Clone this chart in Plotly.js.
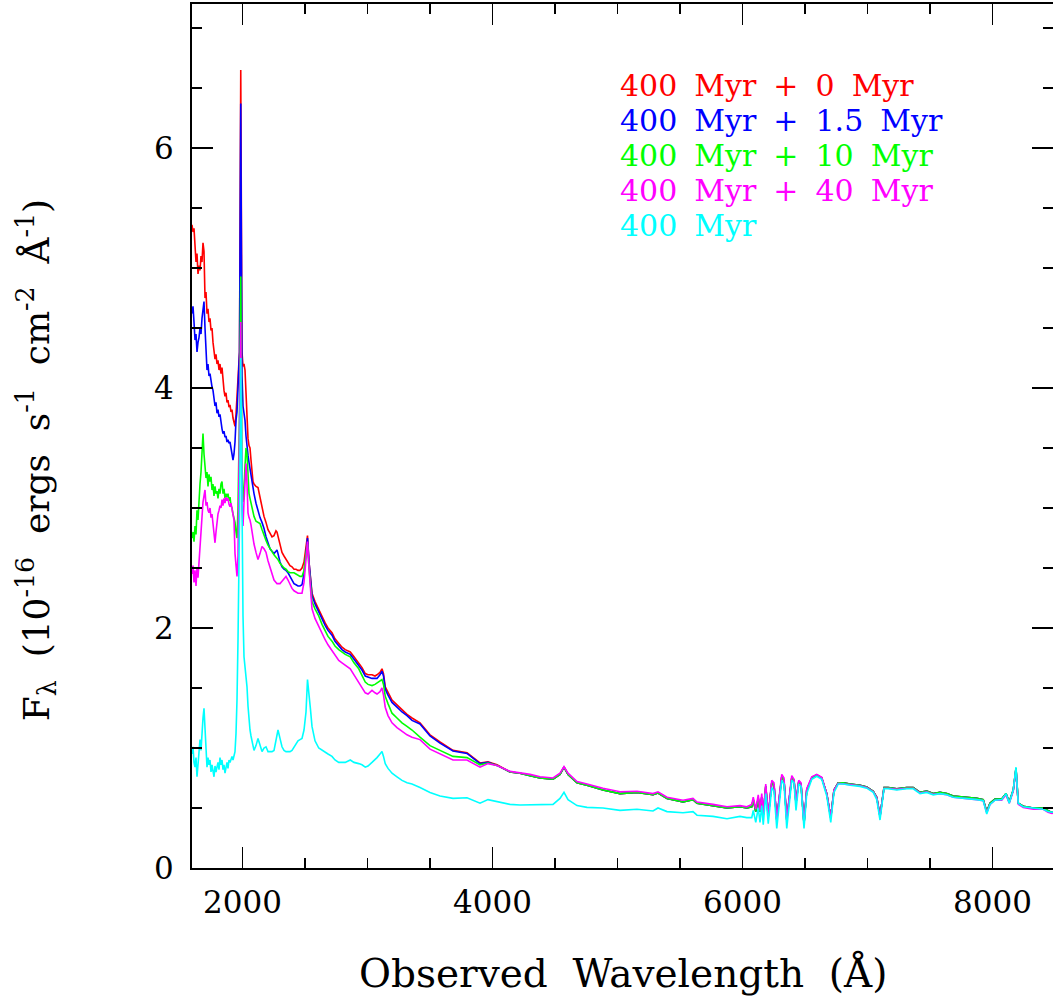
<!DOCTYPE html>
<html>
<head>
<meta charset="utf-8">
<script src="https://cdn.plot.ly/plotly-3.0.1.min.js"></script>
<style>
  html, body { margin: 0; padding: 0; background: #fff; }
  #chart { width: 1053px; height: 1000px; }
</style>
</head>
<body>
<div id="chart"></div>
<script>
// Observed wavelength (Angstrom), UV/blue part of the spectra
const wavelengthBlue = [
  1596,1604,1612,1620,1628,1636,1644,1652,1660,1668,
  1676,1684,1692,1700,1708,1716,1724,1732,1740,1748,
  1756,1764,1772,1780,1788,1796,1804,1812,1820,1828,
  1836,1844,1852,1860,1868,1876,1884,1892,1900,1908,
  1916,1924,1932,1940,1948,1956,1964,1976,1986,1996,
  2004,2012,2020,2028,2036,2044,2052,2060,2068,2076,
  2084,2092,2108,2124,2140,2156,2172,2188,2204,2220,
  2236,2252,2268,2276,2284,2300,2316,2332,2348,2364,
  2380,2396,2412,2428,2444,2460,2476,2492,2508,2520,
  2532,2544,2556,2580,2610,2636,2662,2684,2716,2740,
  2770,2796,2822,2862,2892,2930,2956,2982,3004,3036,
  3060,3076,3100,3116,3128,3142,3164,3196,3236,3276,
  3316,3356,3420,3500,3580,3684,3796,3900,3964,4036
];
// Observed wavelength (Angstrom), optical part of the spectra
const wavelengthRed = [
  4140,4220,4300,4380,4484,4540,4572,4604,4676,4756,
  4884,5020,5156,5284,5324,5396,5524,5604,5636,5764,
  5876,5980,6034,6074,6086,6106,6126,6140,6154,6166,
  6186,6206,6234,6252,6274,6314,6332,6354,6394,6412,
  6428,6450,6468,6492,6514,6554,6594,6634,6674,6706,
  6732,6766,6806,6860,6940,6994,7046,7074,7100,7132,
  7166,7234,7314,7366,7420,7474,7526,7580,7634,7686,
  7794,7874,7926,7954,7980,8020,8074,8108,8134,8166,
  8188,8206,8246,8326,8406,8444,8476,8500
];

// F_lambda (1e-16 erg/s/cm2/A), blue part
const fluxBlue_0Myr = [
  5.36,5.30,5.33,5.18,5.05,5.12,4.95,5.02,4.98,5.10,
  5.05,5.21,5.14,4.75,4.80,4.62,4.66,4.55,4.58,4.48,
  4.50,4.38,4.30,4.24,4.28,4.20,4.23,4.15,4.20,4.12,
  4.17,4.05,3.98,3.93,3.96,3.88,3.90,3.84,3.86,3.80,
  3.82,3.75,3.70,3.68,3.78,3.92,4.05,4.30,6.65,4.30,
  4.18,4.20,4.15,3.90,3.65,3.58,3.52,3.50,3.40,3.30,
  3.22,3.20,3.18,3.17,3.08,3.01,2.93,2.88,2.82,2.79,
  2.76,2.77,2.81,2.80,2.76,2.68,2.63,2.60,2.57,2.55,
  2.52,2.51,2.49,2.49,2.48,2.48,2.50,2.55,2.68,2.77,
  2.55,2.40,2.29,2.22,2.15,2.09,2.04,2.00,1.96,1.91,
  1.87,1.84,1.82,1.80,1.76,1.71,1.67,1.62,1.61,1.61,
  1.60,1.61,1.63,1.66,1.62,1.51,1.46,1.40,1.36,1.32,
  1.28,1.25,1.21,1.11,1.05,0.98,0.96,0.875,0.885,0.86
];
const fluxBlue_1p5Myr = [
  4.62,4.68,4.55,4.40,4.45,4.30,4.38,4.42,4.50,4.45,
  4.58,4.65,4.72,4.50,4.25,4.15,4.20,4.10,4.12,4.05,
  4.01,3.98,3.90,3.85,3.88,3.79,3.82,3.76,3.78,3.70,
  3.66,3.62,3.64,3.59,3.60,3.55,3.57,3.54,3.55,3.50,
  3.46,3.40,3.45,3.55,3.73,3.80,4.00,4.30,6.37,4.10,
  3.85,3.78,3.73,3.60,3.50,3.44,3.38,3.32,3.26,3.20,
  3.15,3.12,3.04,2.97,2.92,2.88,2.83,2.76,2.70,2.66,
  2.64,2.62,2.64,2.65,2.62,2.55,2.51,2.49,2.48,2.46,
  2.43,2.40,2.37,2.36,2.35,2.35,2.36,2.45,2.62,2.75,
  2.55,2.38,2.27,2.20,2.13,2.07,2.02,1.98,1.94,1.89,
  1.85,1.82,1.80,1.78,1.74,1.69,1.65,1.60,1.59,1.58,
  1.58,1.58,1.61,1.64,1.60,1.49,1.44,1.38,1.34,1.30,
  1.27,1.23,1.20,1.10,1.04,0.975,0.955,0.87,0.88,0.855
];
const fluxBlue_10Myr = [
  2.75,2.80,2.72,2.85,2.78,2.98,2.90,3.10,3.20,3.30,
  3.48,3.62,3.45,3.34,3.25,3.30,3.18,3.28,3.22,3.26,
  3.15,3.20,3.10,3.18,3.12,3.14,3.08,3.16,3.12,3.20,
  3.22,3.12,3.16,3.08,3.12,3.09,3.12,3.06,3.09,3.02,
  3.00,2.95,2.92,2.88,2.80,2.75,3.00,3.80,4.93,3.30,
  3.05,3.15,3.35,3.50,3.45,3.20,3.12,3.08,3.04,3.01,
  2.97,2.93,2.89,2.88,2.87,2.82,2.77,2.73,2.69,2.66,
  2.63,2.61,2.59,2.58,2.57,2.54,2.52,2.50,2.49,2.47,
  2.46,2.46,2.46,2.45,2.44,2.43,2.43,2.48,2.62,2.70,
  2.50,2.34,2.22,2.16,2.10,2.03,1.97,1.93,1.89,1.85,
  1.82,1.80,1.78,1.76,1.71,1.66,1.60,1.55,1.53,1.52,
  1.53,1.54,1.56,1.57,1.53,1.43,1.37,1.29,1.25,1.21,
  1.18,1.15,1.09,1.02,0.98,0.93,0.92,0.86,0.875,0.855
];
const fluxBlue_40Myr = [
  2.45,2.52,2.38,2.48,2.35,2.50,2.42,2.55,2.70,2.85,
  2.96,3.05,3.10,3.15,3.02,3.05,2.98,2.96,3.00,2.92,
  2.95,2.85,2.78,2.71,2.80,2.90,2.95,2.98,3.02,3.00,
  3.07,3.02,3.08,3.04,3.09,3.06,3.08,3.03,3.01,3.04,
  2.98,2.92,2.90,2.62,2.55,2.43,2.60,3.60,4.55,3.00,
  2.85,3.05,3.30,3.37,3.20,2.96,2.92,2.90,2.86,2.80,
  2.74,2.70,2.63,2.57,2.62,2.68,2.66,2.63,2.56,2.50,
  2.44,2.40,2.38,2.37,2.37,2.37,2.39,2.41,2.43,2.40,
  2.36,2.33,2.31,2.30,2.29,2.29,2.29,2.38,2.58,2.72,
  2.50,2.30,2.16,2.08,2.01,1.95,1.90,1.86,1.81,1.77,
  1.73,1.71,1.69,1.66,1.61,1.55,1.50,1.46,1.45,1.48,
  1.46,1.45,1.47,1.50,1.44,1.34,1.27,1.21,1.17,1.14,
  1.11,1.09,1.07,0.99,0.95,0.90,0.90,0.84,0.87,0.855
];
const fluxBlue_old = [
  0.95,1.01,0.88,0.84,0.92,0.76,0.86,0.95,1.07,0.98,
  1.15,1.25,1.33,1.12,0.95,0.84,0.92,0.86,0.90,0.80,
  0.86,0.78,0.76,0.85,0.80,0.84,0.88,0.82,0.92,0.86,
  0.90,0.82,0.86,0.79,0.85,0.88,0.83,0.90,0.88,0.92,
  0.93,0.90,0.95,0.97,1.12,1.40,1.90,2.90,4.25,2.80,
  2.10,1.76,1.68,1.60,1.51,1.35,1.23,1.15,1.10,1.07,
  1.02,0.98,1.02,1.08,1.02,0.97,1.00,1.01,0.97,0.97,
  0.97,0.98,1.06,1.10,1.15,1.08,1.01,0.98,0.97,0.97,
  0.97,0.98,1.01,1.04,1.06,1.07,1.08,1.15,1.30,1.57,
  1.46,1.32,1.18,1.06,1.00,0.98,0.96,0.95,0.93,0.90,
  0.88,0.88,0.88,0.90,0.88,0.87,0.86,0.84,0.85,0.88,
  0.90,0.92,0.95,0.97,0.93,0.87,0.83,0.79,0.76,0.73,
  0.71,0.70,0.67,0.63,0.60,0.58,0.585,0.54,0.57,0.555
];

// F_lambda, optical part (young-burst models share the same optical spectrum)
const fluxRed_burst = [
  0.80,0.79,0.77,0.75,0.74,0.78,0.84,0.78,0.71,0.69,
  0.65,0.62,0.63,0.61,0.625,0.58,0.55,0.57,0.54,0.52,
  0.50,0.51,0.50,0.51,0.57,0.47,0.58,0.47,0.59,0.44,
  0.68,0.43,0.71,0.69,0.40,0.76,0.73,0.40,0.75,0.73,
  0.54,0.72,0.70,0.37,0.65,0.75,0.775,0.75,0.62,0.42,
  0.65,0.71,0.71,0.70,0.69,0.675,0.64,0.59,0.43,0.67,
  0.67,0.66,0.67,0.67,0.63,0.64,0.62,0.63,0.62,0.60,
  0.59,0.58,0.57,0.47,0.54,0.575,0.575,0.62,0.55,0.65,
  0.83,0.54,0.515,0.50,0.50,0.475,0.46,0.47
];
const fluxRed_40Myr = [
  0.805,0.795,0.78,0.76,0.75,0.79,0.845,0.79,0.72,0.70,
  0.665,0.635,0.64,0.62,0.635,0.59,0.565,0.58,0.55,0.53,
  0.51,0.52,0.51,0.53,0.59,0.49,0.61,0.48,0.62,0.45,
  0.70,0.44,0.73,0.71,0.41,0.78,0.75,0.41,0.77,0.74,
  0.55,0.73,0.71,0.38,0.66,0.76,0.78,0.755,0.62,0.42,
  0.65,0.705,0.70,0.69,0.685,0.67,0.635,0.585,0.43,0.665,
  0.665,0.655,0.665,0.665,0.625,0.635,0.615,0.62,0.61,0.59,
  0.58,0.57,0.56,0.46,0.53,0.565,0.565,0.61,0.54,0.64,
  0.82,0.53,0.505,0.49,0.49,0.465,0.455,0.46
];
const fluxRed_old = [
  0.53,0.525,0.525,0.525,0.53,0.58,0.63,0.57,0.52,0.505,
  0.50,0.48,0.49,0.475,0.50,0.47,0.46,0.47,0.44,0.43,
  0.41,0.43,0.42,0.42,0.48,0.38,0.50,0.38,0.52,0.36,
  0.62,0.37,0.67,0.64,0.33,0.73,0.70,0.33,0.73,0.71,
  0.48,0.70,0.68,0.33,0.62,0.74,0.765,0.74,0.60,0.38,
  0.63,0.70,0.70,0.69,0.68,0.665,0.63,0.57,0.40,0.66,
  0.66,0.65,0.66,0.66,0.62,0.63,0.61,0.62,0.61,0.59,
  0.58,0.57,0.56,0.45,0.53,0.565,0.57,0.62,0.54,0.65,
  0.84,0.54,0.51,0.50,0.49,0.47,0.465,0.47
];

const seriesNames = ['400 Myr + 0 Myr','400 Myr + 1.5 Myr','400 Myr + 10 Myr','400 Myr + 40 Myr','400 Myr'];
const seriesColors = ['#ff0000','#0000ff','#00ff00','#ff00ff','#00ffff'];
const bluePart = [fluxBlue_0Myr, fluxBlue_1p5Myr, fluxBlue_10Myr, fluxBlue_40Myr, fluxBlue_old];
const redPart = [fluxRed_burst, fluxRed_burst, fluxRed_burst, fluxRed_40Myr, fluxRed_old];

const waveAll = wavelengthBlue.concat(wavelengthRed);
const traces = seriesNames.map((name, i) => ({
  type: 'scatter', mode: 'lines', name: name,
  x: waveAll, y: bluePart[i].concat(redPart[i]),
  line: {color: seriesColors[i], width: 1.6},
  showlegend: false, hoverinfo: 'skip'
}));

const serif = 'DejaVu Serif';
const sp = '\u00a0\u00a0';
const legSp = '\u00a0\u2005';
const annotations = seriesNames.map((name, i) => ({
  xref: 'x', yref: 'y', x: 5004, y: 6.517 - i * 0.2917,
  xanchor: 'left', yanchor: 'middle', showarrow: false,
  text: name.split(' ').join(legSp),
  font: {family: serif, size: 30, color: seriesColors[i]}
}));
annotations.push({
  xref: 'paper', yref: 'paper', x: 0.501, y: -0.121,
  xanchor: 'center', yanchor: 'middle', showarrow: false,
  text: 'Observed' + sp + 'Wavelength' + sp + '(Å)',
  font: {family: serif, size: 39, color: '#000'}
});
annotations.push({
  xref: 'paper', yref: 'paper', x: -0.18, y: 0.472,
  xanchor: 'center', yanchor: 'middle', showarrow: false, textangle: -90,
  text: 'F<sub>λ</sub>' + sp + '(10<sup>-16</sup>' + sp + 'ergs' + sp + 's<sup>-1</sup>' + sp + 'cm<sup>-2</sup>' + sp + 'Å<sup>-1</sup>)',
  font: {family: serif, size: 36, color: '#000'}
});

const axisCommon = {
  showgrid: false, zeroline: false,
  showline: true, linecolor: '#000', linewidth: 2, mirror: 'allticks',
  ticks: 'inside', ticklen: 21, tickwidth: 1.5, tickcolor: '#000',
  tickfont: {family: serif, size: 31, color: '#000'}
};

const layout = {
  width: 1053, height: 1000,
  margin: {l: 192, r: 0, t: 4, b: 132},
  paper_bgcolor: '#fff', plot_bgcolor: '#fff',
  showlegend: false,
  xaxis: Object.assign({}, axisCommon, {
    range: [1596, 8484], tick0: 0, dtick: 2000, ticklabelstandoff: 6,
    minor: {dtick: 500, tick0: 0, ticks: 'inside', ticklen: 10, tickwidth: 1.5, tickcolor: '#000'}
  }),
  yaxis: Object.assign({}, axisCommon, {
    range: [0, 7.2], tick0: 0, dtick: 2, ticklabelstandoff: 10,
    minor: {dtick: 0.5, tick0: 0, ticks: 'inside', ticklen: 10, tickwidth: 1.5, tickcolor: '#000'}
  }),
  annotations: annotations
};

Plotly.newPlot('chart', traces, layout, {staticPlot: true, displayModeBar: false});
</script>
</body>
</html>
